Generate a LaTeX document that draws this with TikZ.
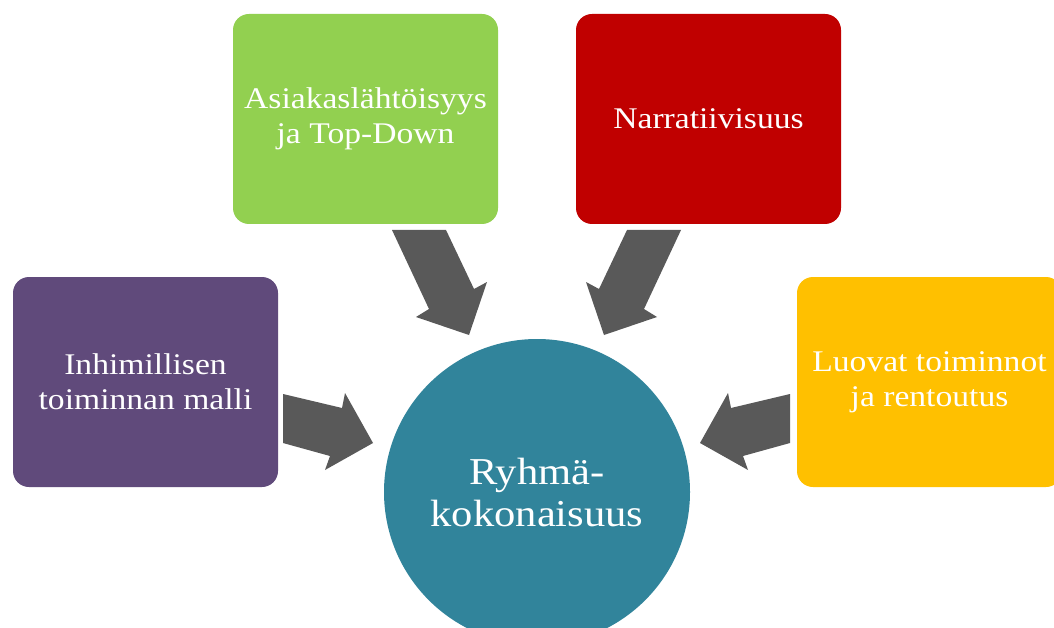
\documentclass[tikz,border=0pt]{standalone}
\usepackage{fontspec}
\setmainfont{Liberation Serif}[FakeStretch=1.12]
\definecolor{cgreen}{HTML}{92D050}
\definecolor{cred}{HTML}{C00000}
\definecolor{cpurple}{HTML}{604A7B}
\definecolor{cyellow}{HTML}{FFC000}
\definecolor{cteal}{HTML}{31849B}
\definecolor{carrow}{HTML}{595959}
\tikzset{
  boxnode/.style={rounded corners=16pt, minimum width=265pt, minimum height=210pt,
    inner sep=0pt, text=white, align=center, font=\fontsize{30}{35}\selectfont},
  hubnode/.style={circle, fill=cteal, minimum size=306pt, inner sep=0pt, text=white,
    align=center, font=\fontsize{38}{42}\selectfont},
  blockarrow/.style={fill=carrow, draw=none}
}
\begin{document}
\begin{tikzpicture}[x=1pt,y=-1pt]
\useasboundingbox (0,0) rectangle (1054,628);
\clip (0,0) rectangle (1054,628);
\fill[white] (0,0) rectangle (1054,628);
\node[boxnode, fill=cgreen] (green) at (365.5,119) {Asiakaslähtöisyys\\ja Top-Down};
\node[boxnode, fill=cred] (red) at (708.5,119) {Narratiivisuus};
\node[boxnode, fill=cpurple] (purple) at (145.5,382) {Inhimillisen\\toiminnan malli};
\node[boxnode, fill=cyellow] (yellow) at (929.5,382) {Luovat toiminnot\\ja rentoutus};
\node[hubnode] (hub) at (537,492) {Ryhmä-\\kokonaisuus};
% block arrows
\fill[blockarrow] (283,394) -- (342,408) -- (345,393) -- (373,443) -- (325,470) -- (330,456) -- (283,443) -- cycle;
\fill[blockarrow] (790,394) -- (731,408) -- (728,393) -- (700,443) -- (748,470) -- (743,456) -- (790,443) -- cycle;
\fill[blockarrow] (392,230) -- (446,230) -- (474,289) -- (487,282) -- (469,335) -- (416,317) -- (429,309) -- cycle;
\fill[blockarrow] (681,230) -- (627,230) -- (599,289) -- (586,282) -- (604,335) -- (657,317) -- (644,309) -- cycle;
\end{tikzpicture}
\end{document}
